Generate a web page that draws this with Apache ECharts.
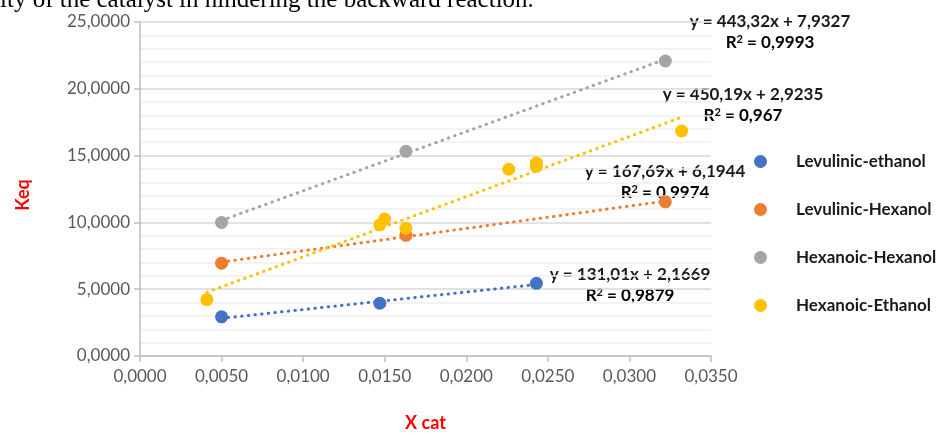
<!DOCTYPE html>
<html><head><meta charset="utf-8">
<script src="https://cdn.jsdelivr.net/npm/echarts@6/dist/echarts.min.js"></script>
<style>html,body{margin:0;padding:0;background:#fff}#c{width:946px;height:437px}</style>
</head><body><div id="c"></div>
<script>
const seriesNames = ['Levulinic-ethanol', 'Levulinic-Hexanol', 'Hexanoic-Hexanol', 'Hexanoic-Ethanol'];
const colors = ['#4472C4', '#ED7D31', '#A5A5A5', '#FFC000'];
const levEthX = [0.0050, 0.0147, 0.0243];
const levEthY = [2.93, 3.95, 5.44];
const levHexX = [0.0050, 0.0163, 0.0322];
const levHexY = [6.95, 9.03, 11.54];
const hexHexX = [0.0050, 0.0163, 0.0322];
const hexHexY = [10.00, 15.32, 22.08];
const hexEthX = [0.0041, 0.0147, 0.0150, 0.0163, 0.0226, 0.0243, 0.0243, 0.0332];
const hexEthY = [4.22, 9.81, 10.25, 9.56, 13.98, 14.20, 14.44, 16.84];
const trendSlopes = [131.01, 167.69, 443.32, 450.19];
const trendIntercepts = [2.1669, 6.1944, 7.9327, 2.9235];
const trendEq = ['y = 131,01x + 2,1669', 'y = 167,69x + 6,1944', 'y = 443,32x + 7,9327', 'y = 450,19x + 2,9235'];
const trendR2 = ['0,9879', '0,9974', '0,9993', '0,967'];
const xTicks = ['0,0000','0,0050','0,0100','0,0150','0,0200','0,0250','0,0300','0,0350'];
const yTicks = ['0,0000','5,0000','10,0000','15,0000','20,0000','25,0000'];
const headerText = 'ity of the catalyst in hindering the backward reaction.';

const allX = [levEthX, levHexX, hexHexX, hexEthX];
const allY = [levEthY, levHexY, hexHexY, hexEthY];

const chart = echarts.init(document.getElementById('c'), null, {renderer: 'canvas'});
const series = [];
allX.forEach((xs, i) => {
  const xmin = Math.min(...xs), xmax = Math.max(...xs);
  series.push({
    type: 'line', name: seriesNames[i] + ' trend', showSymbol: false, symbol: 'none',
    data: [[xmin, trendSlopes[i] * xmin + trendIntercepts[i]], [xmax, trendSlopes[i] * xmax + trendIntercepts[i]]],
    lineStyle: {color: colors[i], width: 3, type: [0.5, 6.2], cap: 'round'},
    silent: true, z: 2
  });
});
allX.forEach((xs, i) => {
  series.push({
    type: 'scatter', name: seriesNames[i], symbolSize: 13,
    itemStyle: {color: colors[i], opacity: 1},
    data: xs.map((x, j) => [x, allY[i][j]]), z: 3
  });
});

// trend label centres (pixel layout of Excel labels)
const labelPos = [[630, 275], [665, 172], [770, 22], [743, 95]];
const graphics = [{
  type: 'text', x: 0, y: 0,
  style: {text: headerText, font: '25px "Liberation Serif"', fill: '#000', verticalAlign: 'middle'}
}];
labelPos.forEach((p, i) => {
  graphics.push({
    type: 'text', x: p[0], y: p[1],
    style: {text: trendEq[i], font: 'bold 17px Lato', fill: '#1a1a1a', align: 'center', verticalAlign: 'middle'}
  });
  graphics.push({
    type: 'text', x: p[0], y: p[1] + 21,
    style: {
      text: '{a|R}{s|2}{a| = ' + trendR2[i] + '}',
      align: 'center', verticalAlign: 'middle',
      rich: {
        a: {fontSize: 17, fontWeight: 'bold', fontFamily: 'Lato', color: '#1a1a1a'},
        s: {fontSize: 11, fontWeight: 'bold', fontFamily: 'Lato', color: '#1a1a1a', verticalAlign: 'top', padding: [0, 0, 8, 0]}
      }
    }
  });
});

chart.setOption({
  animation: false,
  backgroundColor: '#fff',
  grid: {left: 140, right: 235, top: 22, bottom: 74, containLabel: false},
  legend: {
    data: seriesNames, orient: 'vertical', left: 749, top: 148,
    icon: 'circle', itemWidth: 13, itemHeight: 13, itemGap: 31,
    textStyle: {fontFamily: 'Lato', fontWeight: 'bold', fontSize: 17, color: '#1a1a1a', padding: [0, 0, 0, 24]}
  },
  xAxis: {
    type: 'value', min: 0, max: 0.035, interval: 0.005,
    name: 'X cat', nameLocation: 'middle', nameGap: 58,
    nameTextStyle: {color: '#FF0000', fontFamily: 'Lato', fontWeight: 'bold', fontSize: 18},
    axisLine: {show: true, lineStyle: {color: '#bfbfbf', width: 1.5}},
    axisTick: {show: true, length: 6, lineStyle: {color: '#bfbfbf', width: 1.5}},
    axisLabel: {formatter: v => xTicks[Math.round(v / 0.005)], fontFamily: 'Lato', fontSize: 17, color: '#595959', margin: 12},
    splitLine: {show: false}
  },
  yAxis: {
    type: 'value', min: 0, max: 25, interval: 5,
    name: 'Keq', nameLocation: 'middle', nameGap: 108, nameRotate: 90,
    nameTextStyle: {color: '#FF0000', fontFamily: 'Lato', fontWeight: 'bold', fontSize: 18, padding: [0, 12, 0, 0]},
    axisLine: {show: true, lineStyle: {color: '#bfbfbf', width: 1.5}},
    axisTick: {show: true, length: 6, lineStyle: {color: '#bfbfbf', width: 1.5}},
    axisLabel: {formatter: v => yTicks[Math.round(v / 5)], fontFamily: 'Lato', fontSize: 17, color: '#595959', margin: 10},
    splitLine: {show: true, lineStyle: {color: '#d9d9d9', width: 1.5}},
    minorTick: {show: false, splitNumber: 5},
    minorSplitLine: {show: true, lineStyle: {color: '#efefef', width: 1.5}}
  },
  graphic: graphics,
  series: series
});
</script></body></html>
